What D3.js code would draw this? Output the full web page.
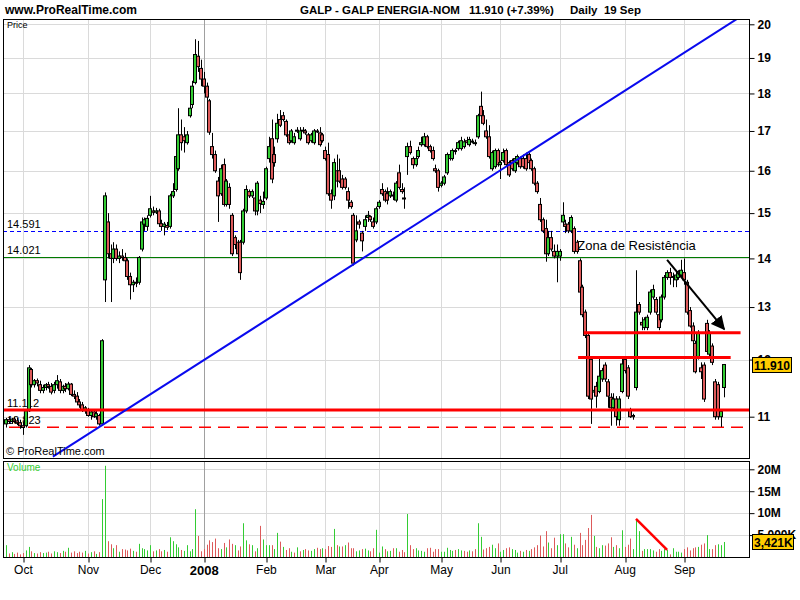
<!DOCTYPE html>
<html><head><meta charset="utf-8">
<script src="https://cdn.jsdelivr.net/npm/d3@7/dist/d3.min.js"></script>
<style>
body{margin:0;background:#fff;}
svg{display:block;font-family:Arial,"Liberation Sans",sans-serif;}
</style></head><body>
<svg id="c" width="800" height="600"></svg>
<script>
// ---- DATA (daily candles, index 0 = 21 Sep 2007, index 254 = 19 Sep 2008) ----
const openP=[10.88,10.95,10.92,10.96,10.93,10.90,10.85,10.85,11.10,11.82,11.55,11.62,11.55,11.45,11.50,11.55,11.52,11.45,11.55,11.60,
11.45,11.52,11.48,11.56,11.38,11.35,11.25,11.20,11.10,11.12,11.02,11.08,11.00,11.02,10.88,13.55,14.80,14.10,14.00,14.20,
14.00,14.05,14.02,13.95,13.62,13.45,13.50,13.50,14.20,14.75,14.70,14.95,15.05,15.02,15.05,14.76,14.70,14.72,14.70,15.40,
15.55,16.05,16.90,16.85,16.70,17.40,17.70,18.30,19.05,18.70,18.40,18.20,17.80,16.60,16.40,15.75,15.45,16.15,15.20,15.60,
14.95,14.45,14.35,14.35,14.35,15.05,15.50,15.40,15.35,15.05,15.30,15.20,15.35,16.30,16.80,16.40,16.80,17.30,17.40,17.25,
16.90,16.75,16.70,17.00,16.80,17.00,17.00,16.90,16.75,16.70,17.00,16.95,16.90,16.50,16.40,15.45,15.40,16.00,16.00,15.80,
15.80,15.50,15.25,14.95,14.40,14.80,14.55,14.70,14.90,14.92,14.80,14.80,15.15,15.55,15.50,15.45,15.40,15.40,15.30,15.95,
15.55,15.35,16.35,16.60,16.30,16.15,16.35,16.65,16.65,16.85,16.60,16.50,16.05,16.00,15.65,15.70,15.95,16.30,16.30,16.50,
16.55,16.55,16.60,16.75,16.65,16.72,16.70,16.85,17.65,17.40,17.00,16.85,16.05,16.10,16.50,16.15,16.25,16.50,16.20,16.25,
16.00,16.20,16.30,16.30,16.30,16.40,16.25,16.05,15.70,15.20,14.85,14.65,14.10,14.45,14.15,14.05,14.05,14.80,14.75,14.75,
14.60,14.65,14.35,13.95,13.40,12.90,12.45,12.00,11.42,11.52,11.43,11.65,11.90,11.60,11.33,11.15,11.30,10.95,11.43,12.00,
11.85,11.12,11.02,11.50,13.05,12.70,12.60,12.60,12.90,13.20,13.15,12.85,12.75,13.20,13.60,13.70,13.62,13.55,13.60,13.65,
13.70,13.50,12.93,12.63,12.30,12.05,11.85,11.90,12.68,12.10,12.25,11.60,11.55,11.00,11.50];
const highP=[10.98,11.00,10.98,11.00,10.98,10.95,10.92,11.12,11.90,11.85,11.65,11.66,11.62,11.55,11.58,11.60,11.58,11.60,11.72,11.65,
11.55,11.58,11.60,11.58,11.45,11.42,11.30,11.25,11.18,11.15,11.12,11.10,11.10,11.05,12.38,15.48,15.00,14.30,14.35,14.30,
14.15,14.20,14.12,14.00,13.70,13.55,13.60,14.05,14.90,14.90,14.95,15.40,15.15,15.12,15.10,14.85,14.80,14.80,15.45,15.70,
16.40,17.60,17.30,17.10,17.00,17.70,18.35,19.55,19.50,18.95,18.60,18.30,17.85,16.95,16.50,15.85,16.15,16.30,15.80,15.70,
15.00,14.50,14.40,14.40,15.10,15.65,15.55,15.55,15.40,15.75,15.40,15.50,16.10,16.85,17.30,16.60,17.45,17.55,17.50,17.30,
17.00,17.05,16.95,17.10,17.10,17.10,17.05,16.95,16.95,17.05,17.05,17.10,16.95,16.60,16.70,15.55,16.30,16.40,16.30,15.90,
15.85,15.60,15.30,15.00,14.95,14.85,14.60,14.95,15.05,14.95,14.90,15.15,15.30,15.70,15.55,15.60,15.55,15.50,15.75,16.15,
15.70,15.60,16.70,16.75,16.35,16.40,16.60,16.85,16.95,16.90,16.65,16.60,16.15,16.05,15.75,15.90,16.45,16.45,16.55,16.55,
16.75,16.85,16.80,16.85,16.85,16.80,16.78,17.45,18.05,17.55,17.30,17.15,16.50,16.55,16.55,16.25,16.55,16.55,16.25,16.30,
16.35,16.40,16.35,16.40,16.45,16.45,16.30,16.10,15.75,15.35,14.90,14.85,14.60,14.60,14.30,14.30,14.20,15.25,14.85,14.80,
14.95,14.70,14.40,14.00,13.45,12.95,12.50,12.05,11.50,11.60,12.05,11.85,11.95,11.65,11.40,11.40,11.35,11.35,12.02,12.02,
11.90,11.15,11.05,13.75,13.10,12.80,12.80,12.85,13.35,13.45,13.20,12.90,13.25,13.65,13.75,13.80,13.70,13.72,13.75,13.97,
14.00,13.55,13.00,12.70,12.35,12.55,11.95,11.95,12.75,12.55,12.30,11.65,11.60,11.12,11.92];
const lowP=[10.82,10.88,10.88,10.90,10.86,10.80,10.70,10.82,11.08,11.50,11.50,11.52,11.40,11.40,11.45,11.48,11.38,11.40,11.48,11.40,
11.40,11.42,11.45,11.35,11.30,11.22,11.15,11.08,11.05,11.00,10.95,10.98,10.95,10.85,10.85,13.10,14.00,13.10,13.90,13.95,
13.90,13.95,13.85,13.55,13.15,13.30,13.40,13.45,14.15,14.60,14.60,14.90,14.95,14.98,14.70,14.60,14.50,14.62,14.65,15.35,
15.50,16.00,16.50,16.45,16.65,17.35,17.60,18.25,18.60,18.20,18.00,17.80,16.90,16.30,15.95,14.80,15.40,15.15,15.15,15.10,
14.05,14.20,14.05,13.55,14.30,15.00,15.35,15.35,14.95,14.95,15.00,15.10,15.30,16.20,15.70,16.10,16.70,17.10,17.25,16.85,
16.65,16.70,16.65,16.95,16.75,16.95,16.90,16.65,16.70,16.65,16.95,16.60,16.70,16.25,15.40,15.10,15.30,15.60,15.70,15.55,
15.55,15.10,15.10,13.85,14.35,14.65,14.15,14.60,14.80,14.80,14.65,14.75,15.10,15.40,15.25,15.20,15.35,15.30,15.25,15.55,
15.45,15.10,15.90,16.40,16.05,16.10,16.30,16.60,16.60,16.55,16.45,16.25,15.95,15.50,15.60,15.65,15.90,16.25,16.25,16.40,
16.50,16.50,16.55,16.65,16.60,16.68,16.62,16.80,17.35,17.15,16.80,16.30,16.00,16.05,16.10,15.80,16.20,16.10,15.85,16.00,
15.95,16.15,16.05,16.05,16.00,16.15,16.00,15.65,15.45,14.80,14.55,13.93,14.05,14.15,14.00,13.50,13.95,14.75,14.55,14.55,
14.55,14.10,14.10,13.25,12.80,12.40,11.30,10.88,11.35,11.15,11.40,11.60,11.60,11.15,10.85,11.10,10.85,10.85,11.40,11.75,
11.30,10.98,10.95,11.45,12.85,12.55,12.55,12.55,12.85,13.15,12.85,12.55,12.70,13.15,13.55,13.45,13.40,13.40,13.55,13.60,
13.45,12.85,12.60,12.30,11.75,12.00,11.65,11.25,12.10,12.05,11.90,10.95,10.95,10.83,11.33];
const closeP=[10.95,10.92,10.96,10.93,10.90,10.85,10.82,11.10,11.85,11.55,11.62,11.58,11.45,11.50,11.55,11.52,11.42,11.55,11.62,11.45,
11.52,11.48,11.56,11.38,11.35,11.25,11.20,11.12,11.15,11.02,11.08,11.00,11.05,10.88,12.35,15.40,14.10,14.00,14.20,14.00,
14.05,14.02,13.95,13.62,13.45,13.50,13.48,14.02,14.80,14.85,14.88,15.10,15.02,15.05,14.76,14.70,14.75,14.68,15.40,15.50,
16.35,16.90,16.70,16.75,16.90,17.60,18.20,19.10,18.75,18.40,18.20,17.90,16.97,16.40,16.00,15.40,16.05,15.20,15.75,15.20,
14.10,14.30,14.10,13.70,15.05,15.55,15.40,15.50,15.05,15.70,15.22,15.27,16.05,16.60,15.80,16.20,17.20,17.15,17.30,16.90,
16.70,17.00,16.85,17.02,17.00,17.02,16.95,16.70,16.90,17.00,16.98,16.65,16.75,16.30,15.45,15.30,16.20,15.75,15.75,15.60,
15.60,15.30,15.15,13.90,14.60,14.75,14.38,14.85,14.95,14.85,14.70,15.10,15.25,15.45,15.30,15.30,15.50,15.42,15.70,15.60,
15.50,15.35,16.60,16.45,16.15,16.30,16.50,16.70,16.85,16.60,16.50,16.30,16.00,15.60,15.70,15.85,16.40,16.40,16.50,16.48,
16.70,16.75,16.72,16.70,16.78,16.74,16.70,17.40,17.40,17.20,16.85,16.35,16.45,16.50,16.15,16.20,16.45,16.15,15.90,16.05,
16.30,16.35,16.10,16.10,16.05,16.20,16.05,15.70,15.50,14.85,14.60,14.10,14.45,14.20,14.05,14.15,14.15,14.95,14.70,14.60,
14.90,14.15,14.15,13.30,12.85,12.45,11.35,11.30,11.45,11.35,11.70,11.80,11.65,11.35,11.15,11.30,11.00,11.30,11.92,11.80,
11.35,11.00,11.00,12.90,12.90,12.65,12.75,12.80,13.30,13.35,12.90,12.60,13.20,13.60,13.70,13.60,13.60,13.65,13.72,13.75,
13.55,12.90,12.63,12.35,11.78,12.50,11.78,11.30,12.15,12.50,11.95,11.00,11.00,11.09,11.91];
const volumeM=[2.7,0.8,1.1,0.7,1.0,0.6,0.9,1.5,2.3,1.3,0.9,0.8,1.1,0.9,1.0,1.2,0.8,1.3,1.1,0.9,
1.4,1.2,2.1,1.0,1.3,0.9,1.2,1.0,1.4,0.8,1.1,1.3,0.7,1.1,13.2,20.8,3.6,2.9,2.0,2.7,
1.2,1.8,1.7,1.5,1.9,1.4,1.2,3.0,2.0,1.8,1.5,2.7,1.3,1.5,1.8,1.3,1.6,1.2,4.5,3.6,
2.9,2.2,1.6,1.4,2.7,1.3,1.8,10.9,4.8,1.3,1.8,2.8,3.8,3.4,4.2,2.0,1.8,3.2,2.2,4.0,
3.0,2.7,1.5,2.4,7.7,3.8,2.9,2.7,1.3,2.0,7.1,4.0,2.7,2.7,2.7,1.8,5.5,3.5,2.3,1.6,
2.0,1.2,1.0,2.2,1.3,1.6,1.8,1.5,1.4,1.8,2.1,1.8,2.0,1.8,2.5,2.3,6.4,2.7,2.4,2.4,
2.7,3.3,2.0,2.0,1.3,1.5,1.8,1.9,1.5,1.3,2.0,6.2,1.0,2.4,1.8,1.3,1.4,2.0,2.0,1.2,
1.6,1.1,9.8,2.7,1.8,2.0,1.5,1.4,1.2,2.0,2.1,1.2,1.8,1.8,1.2,1.2,2.1,1.6,1.4,1.6,
1.8,1.5,1.4,1.2,1.5,1.3,1.8,7.7,4.6,1.7,2.0,2.3,2.8,2.0,3.1,1.2,1.6,2.0,2.2,1.8,
1.6,1.0,1.4,1.2,1.6,1.4,1.8,2.2,2.7,4.9,2.4,5.9,3.3,2.0,4.4,2.7,5.2,5.2,3.1,2.2,
4.6,2.8,2.0,5.5,2.7,3.9,6.6,9.6,4.8,2.3,2.0,2.7,2.6,3.1,4.5,2.3,2.7,2.0,6.1,2.3,
2.8,4.2,1.8,8.6,5.9,1.4,1.8,1.8,1.8,1.5,1.2,1.8,1.4,1.8,1.6,0.6,2.0,1.2,1.2,1.0,
1.8,2.2,1.5,2.0,2.2,2.3,2.8,3.1,5.0,1.8,1.8,2.7,2.9,2.7,3.421];
const monthIdx=[6,29,51,70,92,113,132,154,175,196,219,240];
const monthLabels=["Oct","Nov","Dec","2008","Feb","Mar","Apr","May","Jun","Jul","Aug","Sep"];
const priceTicks=[11,12,13,14,15,16,17,18,19,20];
const volTicks=[5,10,15,20];
const volTickLabels=["5,000K","10M","15M","20M"];
// horizontal levels
const levelBlue=14.591, levelGreen=14.021, levelRed=11.112, levelRedDash=10.823;
// resistance segments [startIdx, endIdx, price]
const resistSegs=[[204.5,260,12.50],[202.5,256.5,12.04]];
// trend line [idx, price]
const trendPts=[[16.6,10.35],[259.2,20.19]];
const arrowPts=[[234,13.97],[254.2,12.57]];
const volLinePts=[[223,8.67],[234,1.6]];
const lastClose=11.910, lastVol=3.421;

// ---- LAYOUT ----
const svg=d3.select("#c");
const L=3,R=749,PT=19,PB=458,VT=461,VB=557;
const x=d3.scaleLinear().domain([0,254]).range([6,723.6]);
const y=d3.scaleLog().domain([11,20]).range([416.7,24.3]);
const vy=d3.scaleLinear().domain([0,20]).range([557,469.3]);
const GREEN="#33cc33", RED="#dd5a5a";
const px=v=>Math.round(v)+0.5;

svg.append("defs").append("clipPath").attr("id","pclip").append("rect")
  .attr("x",L).attr("y",PT).attr("width",R-L).attr("height",PB-PT);
svg.append("defs").append("marker").attr("id","ah").attr("viewBox","0 0 10 10")
  .attr("refX",9).attr("refY",5).attr("markerWidth",7).attr("markerHeight",7).attr("orient","auto")
  .append("path").attr("d","M0,0 L10,5 L0,10 z").attr("fill","#000");

// header
svg.append("text").attr("x",5).attr("y",14).attr("font-size",12).attr("font-weight","bold").text("www.ProRealTime.com");
svg.append("text").attr("x",300).attr("y",14).attr("font-size",11.5).attr("font-weight","bold").text("GALP - GALP ENERGIA-NOM");
svg.append("text").attr("x",469).attr("y",14).attr("font-size",11.5).attr("font-weight","bold").text("11.910 (+7.39%)");
svg.append("text").attr("x",570).attr("y",14).attr("font-size",11.5).attr("font-weight","bold").attr("xml:space","preserve").text("Daily  19 Sep");

// grid price panel
const gP=svg.append("g");
gP.selectAll("line.h").data(priceTicks).join("line").attr("x1",L).attr("x2",R)
  .attr("y1",d=>px(y(d))).attr("y2",d=>px(y(d))).attr("stroke","#dadada");
gP.selectAll("line.v").data(monthIdx).join("line").attr("y1",PT).attr("y2",PB)
  .attr("x1",d=>px(x(d))).attr("x2",d=>px(x(d))).attr("stroke",(d,i)=>monthLabels[i]==="2008"?"#a0a0a0":"#dadada");
// grid volume panel
const gV=svg.append("g");
gV.selectAll("line.h").data(volTicks).join("line").attr("x1",L).attr("x2",R)
  .attr("y1",d=>px(vy(d))).attr("y2",d=>px(vy(d))).attr("stroke","#dadada");
gV.selectAll("line.v").data(monthIdx).join("line").attr("y1",VT).attr("y2",VB)
  .attr("x1",d=>px(x(d))).attr("x2",d=>px(x(d))).attr("stroke",(d,i)=>monthLabels[i]==="2008"?"#a0a0a0":"#dadada");

// level lines under candles
svg.append("line").attr("x1",L).attr("x2",R).attr("y1",px(y(levelBlue))).attr("y2",px(y(levelBlue)))
  .attr("stroke","#0000ff").attr("stroke-dasharray","4,3");
svg.append("line").attr("x1",L).attr("x2",R).attr("y1",px(y(levelGreen))).attr("y2",px(y(levelGreen)))
  .attr("stroke","#007a00");
svg.append("line").attr("x1",L+6).attr("x2",R).attr("y1",y(levelRedDash)).attr("y2",y(levelRedDash))
  .attr("stroke","#ff0000").attr("stroke-width",1.5).attr("stroke-dasharray","12,7");
// level labels
const lvl=[[levelBlue,"14.591"],[levelGreen,"14.021"],[levelRed,"11.112"],[levelRedDash,"10.823"]];
svg.selectAll("text.lvl").data(lvl).join("text").attr("x",7).attr("y",d=>y(d[0])-3)
  .attr("font-size",11).text(d=>d[1]);
svg.append("text").attr("x",7).attr("y",28).attr("font-size",9).text("Price");

// candles
const idx=d3.range(openP.length);
const gc=svg.append("g");
gc.selectAll("line.w").data(idx).join("line")
  .attr("x1",i=>px(x(i))).attr("x2",i=>px(x(i)))
  .attr("y1",i=>y(highP[i])).attr("y2",i=>y(lowP[i])).attr("stroke","#000");
gc.selectAll("rect").data(idx).join("rect")
  .attr("x",i=>Math.round(x(i))-1.5).attr("width",3)
  .attr("y",i=>y(Math.max(openP[i],closeP[i])))
  .attr("height",i=>Math.max(1,Math.abs(y(openP[i])-y(closeP[i]))))
  .attr("fill",i=>closeP[i]>=openP[i]?GREEN:RED).attr("stroke","#000").attr("stroke-width",1);

// annotations on top
svg.append("line").attr("x1",L).attr("x2",R).attr("y1",y(levelRed)).attr("y2",y(levelRed))
  .attr("stroke","#ff0000").attr("stroke-width",3);
svg.selectAll("line.rs").data(resistSegs).join("line")
  .attr("x1",d=>x(d[0])).attr("x2",d=>x(d[1])).attr("y1",d=>y(d[2])).attr("y2",d=>y(d[2]))
  .attr("stroke","#ff0000").attr("stroke-width",3);
svg.append("line").attr("clip-path","url(#pclip)")
  .attr("x1",x(trendPts[0][0])).attr("y1",y(trendPts[0][1]))
  .attr("x2",x(trendPts[1][0])).attr("y2",y(trendPts[1][1]))
  .attr("stroke","#0a0aee").attr("stroke-width",2);
svg.append("line").attr("x1",x(arrowPts[0][0])).attr("y1",y(arrowPts[0][1]))
  .attr("x2",x(arrowPts[1][0])).attr("y2",y(arrowPts[1][1]))
  .attr("stroke","#000").attr("stroke-width",2).attr("marker-end","url(#ah)");
svg.append("text").attr("x",x(202.2)).attr("y",250).attr("font-size",13).text("Zona de Resistência");
svg.append("text").attr("x",6).attr("y",455).attr("font-size",11).text("© ProRealTime.com");

// volume bars
svg.append("text").attr("x",7).attr("y",471).attr("font-size",10).attr("fill",GREEN).text("Volume");
svg.append("g").selectAll("line").data(idx).join("line")
  .attr("x1",i=>px(x(i))).attr("x2",i=>px(x(i)))
  .attr("y1",vy(0)).attr("y2",i=>vy(volumeM[i]))
  .attr("stroke",i=>(i===0||closeP[i]>=closeP[i-1])?GREEN:RED);
svg.append("line").attr("x1",x(volLinePts[0][0])).attr("y1",vy(volLinePts[0][1]))
  .attr("x2",x(volLinePts[1][0])).attr("y2",vy(volLinePts[1][1]))
  .attr("stroke","#ff0000").attr("stroke-width",2.5);

// frames
svg.append("rect").attr("x",L+0.5).attr("y",PT+0.5).attr("width",R-L).attr("height",PB-PT).attr("fill","none").attr("stroke","#000");
svg.append("rect").attr("x",L+0.5).attr("y",VT+0.5).attr("width",R-L).attr("height",VB-VT).attr("fill","none").attr("stroke","#000");

// axes
const ay=svg.append("g").attr("transform",`translate(${R+0.5},0)`)
  .call(d3.axisRight(y).tickValues(priceTicks).tickFormat(d3.format("d")).tickSize(5).tickPadding(3));
ay.select(".domain").remove();
ay.selectAll("text").attr("font-size",12).attr("font-weight","bold").attr("font-family","Arial,'Liberation Sans',sans-serif").attr("fill","#000");
const av=svg.append("g").attr("transform",`translate(${R+0.5},0)`)
  .call(d3.axisRight(vy).tickValues(volTicks).tickFormat((d,i)=>volTickLabels[i]).tickSize(5).tickPadding(3));
av.select(".domain").remove();
av.selectAll("text").attr("font-size",12).attr("font-weight","bold").attr("font-family","Arial,'Liberation Sans',sans-serif").attr("fill","#000");
const ax=svg.append("g").attr("transform",`translate(0,${VB+0.5})`)
  .call(d3.axisBottom(x).tickValues(monthIdx).tickFormat((d,i)=>monthLabels[i]).tickSize(5).tickPadding(3));
ax.select(".domain").remove();
ax.selectAll("text").attr("font-size",12).attr("font-family","Arial,'Liberation Sans',sans-serif").attr("fill","#000")
  .attr("font-weight",(d,i)=>monthLabels[i]==="2008"?"bold":"normal").attr("font-size",(d,i)=>monthLabels[i]==="2008"?13:12);
ax.selectAll(".tick line").attr("transform",d=>`translate(${px(x(d))-x(d)},0)`);

// last value boxes
function box(cy,label,w){
  const g=svg.append("g");
  g.append("rect").attr("x",752.5).attr("y",Math.round(cy)-7.5).attr("width",w).attr("height",15).attr("fill","#ffcc00").attr("stroke","#000");
  g.append("text").attr("x",754).attr("y",Math.round(cy)+4.5).attr("font-size",12).attr("font-weight","bold").text(label);
}
box(y(lastClose),"11.910",39);
box(vy(lastVol),"3,421K",41);
</script>
</body></html>
